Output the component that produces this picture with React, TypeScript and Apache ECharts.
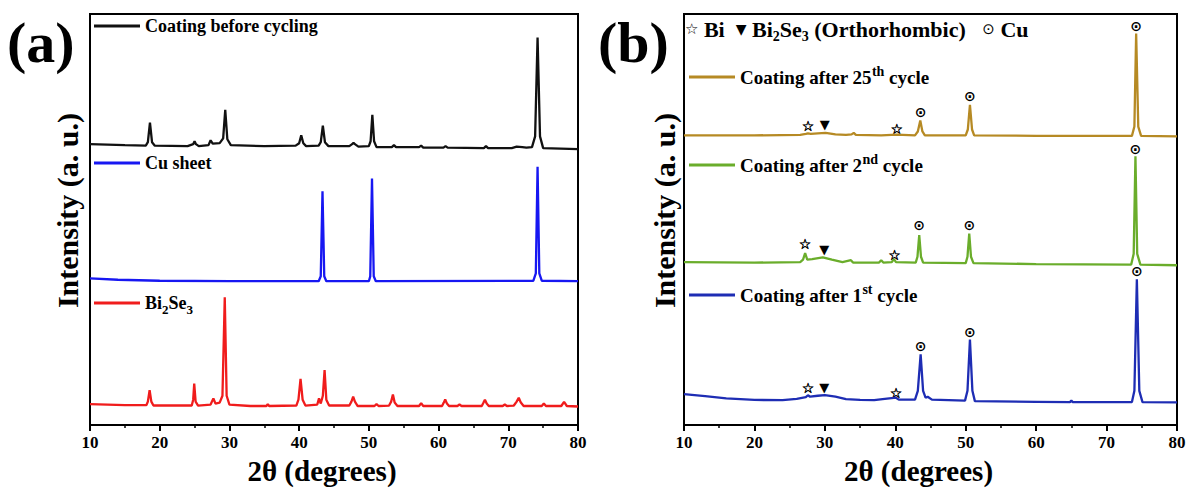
import React, { useEffect, useRef } from "react";
import * as echarts from "echarts";

const FONT = "'Liberation Serif', 'Times New Roman', serif";
const SYM_FONT = "'DejaVu Sans', sans-serif";

// ---------- Panel (a) ----------
const coatingBefore: [number, number][] = [
  [10, 287], [15, 286], [18.0, 285.5], [18.3, 289], [18.6, 309], [18.9, 289], [19.3, 285.5],
  [24.0, 285], [24.8, 287], [25.0, 290], [25.2, 287], [25.6, 285],
  [27.0, 286], [27.3, 291], [27.6, 287.5], [28.6, 288], [29.1, 293], [29.4, 322], [29.7, 292], [30.2, 286],
  [35, 285], [39.5, 285.5], [40.0, 288], [40.3, 296], [40.6, 288], [41.0, 285],
  [42.8, 285.5], [43.1, 289], [43.4, 306], [43.7, 289], [44.2, 285],
  [47.2, 285], [47.6, 287], [47.8, 288.5], [48.0, 287], [48.5, 284.5],
  [50.0, 285], [50.25, 290], [50.5, 317], [50.75, 290], [51.1, 284],
  [53.3, 284], [53.6, 286], [53.9, 284],
  [57.2, 284], [57.5, 285.5], [57.8, 283.5],
  [60.7, 283.5], [61.0, 285], [61.3, 283.5],
  [66.5, 283], [66.8, 285], [67.1, 283],
  [70.5, 283], [71.2, 284.5], [72.0, 284], [72.6, 283.5],
  [73.4, 284], [73.85, 295], [74.2, 396], [74.55, 295], [75.0, 283],
  [80, 282],
];

const cuSheet: [number, number][] = [
  [10, 150], [14, 148.5], [20, 147.5], [30, 147],
  [42.8, 147], [43.1, 152], [43.35, 239], [43.6, 152], [43.9, 147],
  [50.0, 147], [50.2, 152], [50.45, 252], [50.7, 152], [51.0, 147],
  [73.6, 147.5], [73.95, 155], [74.2, 264], [74.45, 155], [74.8, 147.5],
  [80, 147],
];

const bi2se3: [number, number][] = [
  [10, 21.5], [15, 20.5], [18.1, 20.5], [18.3, 24], [18.55, 35.7], [18.8, 24], [19.1, 20],
  [24.6, 20], [24.8, 26], [24.95, 42.3], [25.15, 24], [25.5, 20],
  [27.3, 21], [27.7, 27.3], [28.0, 22], [28.6, 23], [29.0, 30], [29.33, 130.7], [29.6, 30], [30.0, 21],
  [33, 19.5], [35.3, 19.5], [35.5, 21.5], [35.7, 19.5],
  [39.6, 20], [39.9, 26], [40.2, 47.3], [40.5, 26], [40.9, 20],
  [42.6, 21], [42.85, 27.3], [43.1, 22], [43.4, 30], [43.65, 56.3], [43.9, 26], [44.3, 20],
  [47.2, 20], [47.5, 24], [47.75, 29], [48.0, 24], [48.4, 19.5],
  [50.8, 19.5], [51.1, 21.5], [51.4, 19.5],
  [52.9, 20], [53.2, 24], [53.45, 31.3], [53.7, 23], [54.1, 19.5],
  [57.2, 19.5], [57.5, 22.5], [57.8, 19.5],
  [60.5, 19.5], [60.75, 23], [60.95, 26.3], [61.2, 22], [61.5, 19.5],
  [62.7, 19.5], [63.0, 21], [63.3, 19.5],
  [66.2, 19.5], [66.45, 23], [66.65, 26], [66.9, 22], [67.2, 19.5],
  [69.2, 19.5], [69.5, 21], [69.8, 19.5],
  [70.8, 20], [71.2, 24], [71.5, 28], [71.8, 23], [72.2, 19.5],
  [74.8, 19.5], [75.1, 22], [75.4, 19.5],
  [77.6, 19.5], [78.0, 23.7], [78.4, 19.5],
  [80, 19],
];

// ---------- Panel (b) ----------
const after25: [number, number][] = [
  [10, 296], [20, 296], [26.5, 296.5], [27.3, 297.5], [27.6, 298], [28.0, 297.5], [29, 298],
  [30.1, 298.5], [31.5, 297], [33, 296.5], [33.8, 297], [34.1, 298.5], [34.4, 296.5],
  [38, 296], [40.2, 296.8], [42.8, 296],
  [43.2, 300], [43.55, 311.3], [43.85, 300], [44.2, 296],
  [50.0, 296], [50.3, 302], [50.6, 327.3], [50.9, 302], [51.2, 296],
  [60, 295.5], [73.6, 295.5], [73.95, 305], [74.2, 400], [74.5, 305], [74.9, 295.5],
  [80, 295],
];

const after2: [number, number][] = [
  [10, 166.5], [20, 166], [26.5, 166.5], [26.9, 169], [27.2, 175.7], [27.5, 169], [28.2, 169.5],
  [29.7, 171.3], [31.0, 169], [32.5, 166.5], [33.7, 168.5], [34.0, 166],
  [37.7, 166], [38.0, 168.5], [38.3, 166], [39.5, 166.5], [39.8, 169.5], [40.1, 166.5],
  [42.9, 166], [43.15, 172], [43.4, 194], [43.65, 172], [43.95, 166],
  [50.0, 165.5], [50.25, 172], [50.5, 195.7], [50.75, 172], [51.1, 165.5],
  [60, 164.5], [73.5, 164], [73.85, 175], [74.1, 274.7], [74.35, 175], [74.8, 164],
  [80, 163.3],
];

const after1: [number, number][] = [
  [10, 31.7], [13, 29.5], [16, 27.2], [20, 25.7], [24, 25.5], [26, 26.8], [27.3, 28.5],
  [27.6, 30.5], [27.9, 29], [29, 30], [30.0, 30.7], [31.5, 29], [33, 26.5], [35, 25.7],
  [37, 25.5], [38.2, 26.5], [40.1, 28], [40.5, 26], [42.8, 26],
  [43.2, 35], [43.6, 72.3], [43.95, 35], [44.3, 28], [44.6, 29], [45.2, 26],
  [49.9, 25], [50.25, 35], [50.6, 87.3], [50.95, 35], [51.3, 24.5],
  [60, 23.8], [64.8, 23.5], [65.0, 25], [65.2, 23.5],
  [73.6, 23.5], [73.95, 35], [74.3, 149], [74.65, 35], [75.1, 23.5],
  [80, 23.3],
];

// phase markers (2θ, height where marker sits)
const biMarks: [number, number][] = [
  [27.6, 305.7], [40.2, 302.3], [27.2, 185], [39.9, 173.3], [27.6, 38], [40.1, 33],
];
const bi2se3Marks: [number, number][] = [[30.0, 307.3], [29.9, 179.7], [29.9, 38]];
const cuMarks: [number, number][] = [
  [43.6, 319.7], [50.6, 336.7], [74.2, 408],
  [43.4, 204], [50.5, 204], [74.1, 282.3],
  [43.6, 80.7], [50.6, 95], [74.3, 157.5],
];

const X_MIN = 10;
const X_MAX = 80;
const X_STEP = 10;
const Y_MAX = 420;

const COLORS = {
  before: "#111111",
  cu: "#1717f2",
  bi2se3: "#f01c1c",
  c25: "#b68a24",
  c2: "#6aad2b",
  c1: "#1e2db4",
};

const textBase = { fontFamily: FONT, fontWeight: "bold" as const, color: "#000" };

function richFor(size: number, subSize: number, lh: number) {
  return {
    t: { ...textBase, fontSize: size, lineHeight: lh },
    sub: { ...textBase, fontSize: subSize, lineHeight: subSize, verticalAlign: "bottom" as const },
    sup: { ...textBase, fontSize: subSize, lineHeight: subSize, verticalAlign: "top" as const },
  };
}

const legendLabel: Record<string, string> = {
  Bi2Se3: "{t|Bi}{sub|2}{t|Se}{sub|3}",
  "Coating after 25th cycle": "{t|Coating after 25}{sup|th}{t| cycle}",
  "Coating after 2nd cycle": "{t|Coating after 2}{sup|nd}{t| cycle}",
  "Coating after 1st cycle": "{t|Coating after 1}{sup|st}{t| cycle}",
};

function makeLegend(name: string, left: number, centerY: number, size: number) {
  return {
    data: [name],
    left,
    top: centerY - 13,
    padding: 0,
    icon: "rect",
    itemWidth: 46,
    itemHeight: 3,
    selectedMode: false,
    formatter: (n: string) => legendLabel[n] ?? `{t|${n}}`,
    textStyle: { ...textBase, fontSize: size, rich: richFor(size, size - 5, 26) },
  };
}

function xAxis(gridIndex: number) {
  return {
    type: "value",
    gridIndex,
    min: X_MIN,
    max: X_MAX,
    interval: X_STEP,
    axisLine: { show: true, onZero: false, lineStyle: { color: "#000", width: 2 } },
    axisTick: { show: true, inside: false, length: 6, lineStyle: { color: "#000", width: 2 } },
    minorTick: { show: true, splitNumber: 2, length: 3, lineStyle: { color: "#000", width: 1.5 } },
    splitLine: { show: false },
    minorSplitLine: { show: false },
    axisLabel: { ...textBase, fontSize: 17, margin: 9 },
    name: "2θ (degrees)",
    nameLocation: "middle",
    nameGap: 29,
    nameTextStyle: { ...textBase, fontSize: 29, padding: [0, 24, 0, 0] },
  };
}

function yAxis(gridIndex: number, gap: number) {
  return {
    type: "value",
    gridIndex,
    min: 0,
    max: Y_MAX,
    axisLine: { show: false },
    axisTick: { show: false },
    axisLabel: { show: false },
    splitLine: { show: false },
    name: "Intensity (a. u.)",
    nameLocation: "middle",
    nameGap: gap,
    nameTextStyle: { ...textBase, fontSize: 30, padding: [0, 0, 0, 18] },
  };
}

function lineSeries(name: string, data: [number, number][], color: string, idx: number) {
  return {
    type: "line",
    name,
    data,
    xAxisIndex: idx,
    yAxisIndex: idx,
    showSymbol: false,
    symbol: "none",
    color,
    lineStyle: { color, width: 2.3 },
    emphasis: { disabled: true },
    silent: true,
  };
}

function markSeries(name: string, data: [number, number][], char: string, size: number, border: number) {
  return {
    type: "scatter",
    name,
    data,
    xAxisIndex: 1,
    yAxisIndex: 1,
    symbolSize: 1,
    itemStyle: { color: "rgba(255,255,255,0)" },
    label: {
      show: true,
      position: "inside",
      formatter: char,
      fontFamily: SYM_FONT,
      fontSize: size,
      fontWeight: "bold",
      color: "#000",
      textBorderColor: "#000",
      textBorderWidth: border,
      opacity: 1,
    },
    emphasis: { disabled: true },
    silent: true,
  };
}

const keyRich = {
  ...richFor(22, 14, 28),
  s: { fontFamily: SYM_FONT, fontSize: 15, color: "#000", lineHeight: 28 },
  v: { fontFamily: SYM_FONT, fontSize: 14, color: "#000", lineHeight: 28 },
};

const option = {
  animation: false,
  backgroundColor: "#fff",
  grid: [
    { left: 90, top: 14, width: 488, height: 420, show: true, borderColor: "#000", borderWidth: 2 },
    { left: 684, top: 14, width: 493, height: 420, show: true, borderColor: "#000", borderWidth: 2 },
  ],
  xAxis: [xAxis(0), xAxis(1)],
  yAxis: [yAxis(0, 8), yAxis(1, 5)],
  legend: [
    makeLegend("Coating before cycling", 94, 30, 18),
    makeLegend("Cu sheet", 94, 167, 18),
    makeLegend("Bi2Se3", 94, 307, 18),
    makeLegend("Coating after 25th cycle", 689, 77, 19),
    makeLegend("Coating after 2nd cycle", 689, 165, 19),
    makeLegend("Coating after 1st cycle", 689, 295, 19),
  ],
  graphic: [
    {
      type: "text",
      left: 7,
      top: 13,
      style: { text: "(a)", font: `bold 58px ${FONT}`, fill: "#000" },
    },
    {
      type: "text",
      left: 598,
      top: 13,
      style: { text: "(b)", font: `bold 58px ${FONT}`, fill: "#000" },
    },
    {
      type: "text",
      left: 685,
      top: 18,
      style: {
        text:
          "{s|☆} {t|Bi}  {v|▼} {t|Bi}{sub|2}{t|Se}{sub|3}{t| (Orthorhombic)}   {s|⊙} {t|Cu}",
        font: `bold 22px ${FONT}`,
        fill: "#000",
        rich: keyRich,
      },
    },
  ],
  series: [
    lineSeries("Coating before cycling", coatingBefore, COLORS.before, 0),
    lineSeries("Cu sheet", cuSheet, COLORS.cu, 0),
    lineSeries("Bi2Se3", bi2se3, COLORS.bi2se3, 0),
    lineSeries("Coating after 25th cycle", after25, COLORS.c25, 1),
    lineSeries("Coating after 2nd cycle", after2, COLORS.c2, 1),
    lineSeries("Coating after 1st cycle", after1, COLORS.c1, 1),
    markSeries("Bi", biMarks, "☆", 14, 0.5),
    markSeries("Bi2Se3 (Orthorhombic)", bi2se3Marks, "▼", 13, 0),
    markSeries("Cu", cuMarks, "⊙", 14, 0),
  ],
};

export default function App() {
  const ref = useRef<HTMLDivElement>(null);
  useEffect(() => {
    if (!ref.current) return;
    const chart = echarts.init(ref.current, null, { renderer: "svg" });
    chart.setOption(option as any);
    return () => chart.dispose();
  }, []);
  return (
    <div
      ref={ref}
      style={{ position: "fixed", left: 0, top: 0, width: 1189, height: 490, background: "#fff" }}
    />
  );
}
